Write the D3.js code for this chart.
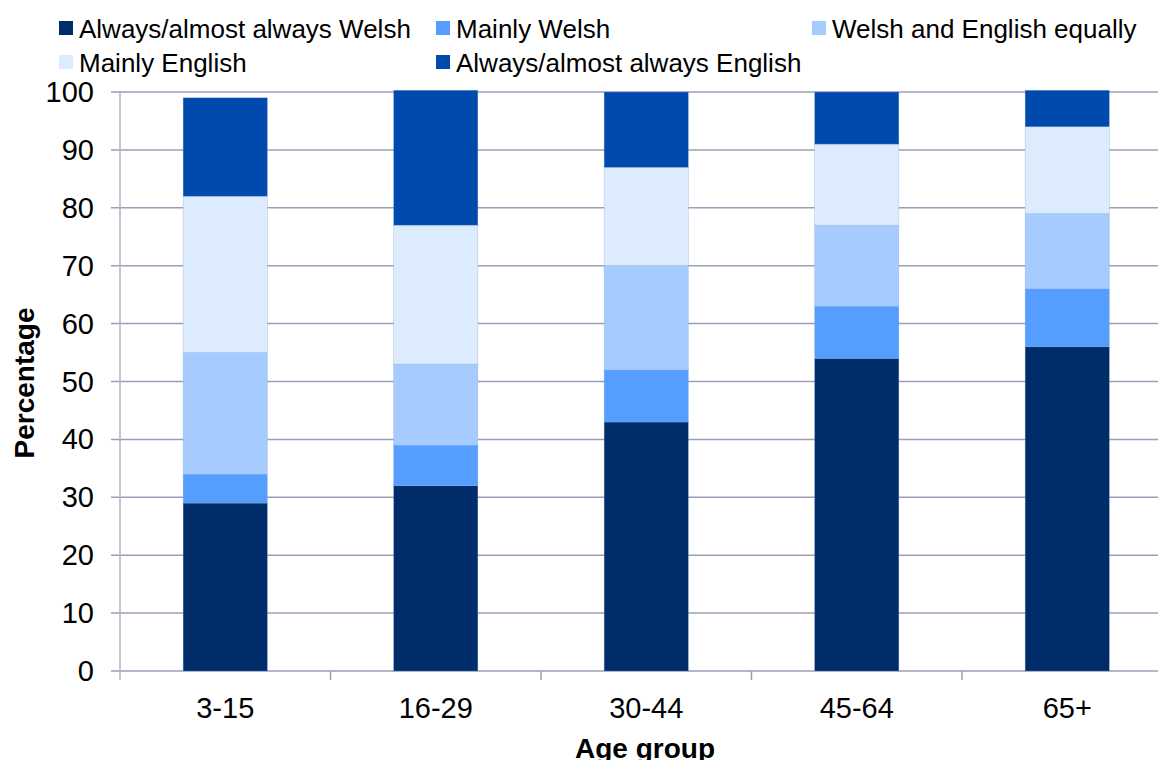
<!DOCTYPE html>
<html><head><meta charset="utf-8">
<script src="https://cdn.jsdelivr.net/npm/d3@7"></script>
<style>body{margin:0;background:#fff}svg{display:block;font-family:"Liberation Sans",Arial,sans-serif}</style>
</head><body><svg id="c" width="1158" height="760"></svg>
<script>
const categories = ["3-15","16-29","30-44","45-64","65+"];
const seriesNames = ["Always/almost always Welsh","Mainly Welsh","Welsh and English equally","Mainly English","Always/almost always English"];
const alwaysWelsh = [29,32,43,54,56];
const mainlyWelsh = [5,7,9,9,10];
const equally = [21,14,18,14,13];
const mainlyEnglish = [27,24,17,14,15];
const alwaysEnglish = [17,23.3,13,9,6.3];
const yTicks = [0,10,20,30,40,50,60,70,80,90,100];
const colors = ["#002D6A","#559EFF","#A6CBFF","#DDEBFF","#004AAD"];

const series = [alwaysWelsh,mainlyWelsh,equally,mainlyEnglish,alwaysEnglish];
const svg = d3.select("#c");
const L=120, R=1172.5, T=92, B=671;
const x = d3.scaleBand().domain(categories).range([L,R]).paddingInner(0.6).paddingOuter(0.3);
const xs = d3.scaleBand().domain(categories).range([L,R]);
const y = d3.scaleLinear().domain([0,100]).range([B,T]);

// gridlines
svg.append("g").selectAll("line").data(yTicks).join("line")
  .attr("x1",L-9).attr("x2",1158).attr("y1",d=>y(d)).attr("y2",d=>y(d))
  .attr("stroke","#9A9FB8").attr("stroke-width",1.5);
// left axis
svg.append("line").attr("x1",L).attr("x2",L).attr("y1",T).attr("y2",B+9).attr("stroke","#B0B3C6").attr("stroke-width",1.5);
// category ticks
svg.append("g").selectAll("line").data(categories.slice(1)).join("line")
  .attr("x1",d=>xs(d)).attr("x2",d=>xs(d)).attr("y1",B).attr("y2",B+9).attr("stroke","#9A9FB8").attr("stroke-width",1.5);

// stacked bars
const stackData = categories.map((c,i)=>{const o={cat:c}; seriesNames.forEach((s,j)=>o[s]=series[j][i]); return o;});
const stacked = d3.stack().keys(seriesNames)(stackData);
svg.append("g").selectAll("g").data(stacked).join("g").attr("fill",(d,i)=>colors[i])
  .selectAll("rect").data(d=>d).join("rect")
  .attr("x",d=>x(d.data.cat)).attr("width",x.bandwidth())
  .attr("y",d=>y(d[1])).attr("height",d=>y(d[0])-y(d[1]))
  .attr("stroke","#7FA6D8").attr("stroke-width",0.6).attr("stroke-opacity",0.5);

// y tick labels
svg.append("g").selectAll("text").data(yTicks).join("text")
  .attr("x",94).attr("y",d=>y(d)+10).attr("text-anchor","end").attr("font-size",29).attr("fill","#000").text(d=>d);
// x labels
svg.append("g").selectAll("text").data(categories).join("text")
  .attr("x",d=>xs(d)+xs.bandwidth()/2).attr("y",718).attr("text-anchor","middle").attr("font-size",29).attr("fill","#000").text(d=>d);
// axis titles
svg.append("text").attr("transform","translate(34,383) rotate(-90)").attr("text-anchor","middle")
  .attr("font-size",28).attr("font-weight","bold").text("Percentage");
svg.append("text").attr("x",645).attr("y",758).attr("text-anchor","middle").attr("font-size",28).attr("font-weight","bold").text("Age group");

// legend
const legPos = [[59,28],[436,28],[812,28],[59,62],[436,62]];
const lg = svg.append("g").selectAll("g").data(seriesNames).join("g")
  .attr("transform",(d,i)=>`translate(${legPos[i][0]},${legPos[i][1]})`);
lg.append("rect").attr("x",0).attr("y",-7).attr("width",14).attr("height",14).attr("fill",(d,i)=>colors[i]);
lg.append("text").attr("x",20).attr("y",9.5).attr("font-size",26).text(d=>d);
</script></body></html>
